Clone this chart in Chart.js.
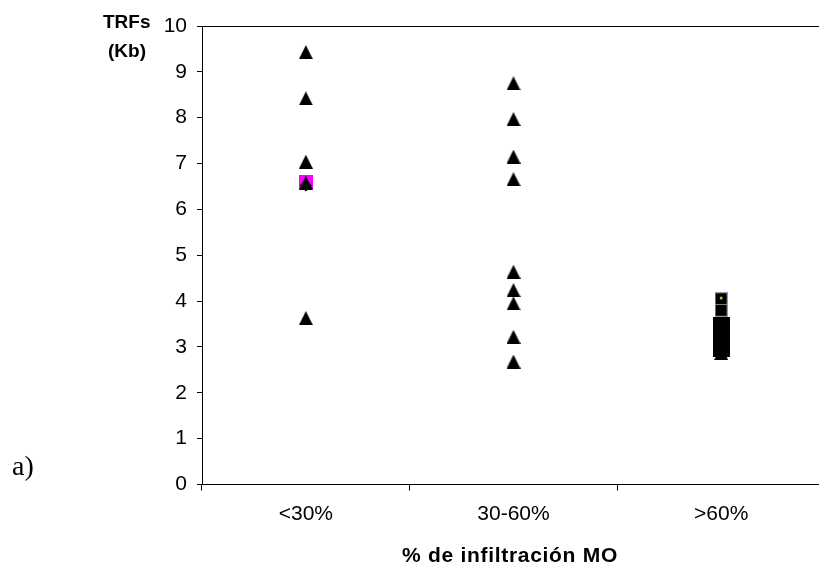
<!DOCTYPE html>
<html>
<head>
<meta charset="utf-8">
<script src="https://cdn.jsdelivr.net/npm/chart.js"></script>
<style>
html, body { margin: 0; padding: 0; background: #fff; overflow: hidden; }
#caja { position: relative; width: 819px; height: 569px; overflow: hidden; }
#grafica { position: absolute; left: 0; top: 0; }
.tit { position: absolute; font-family: 'Liberation Sans', Arial, sans-serif; font-weight: bold; font-size: 19px; color: #000; }
</style>
</head>
<body>
<div id="caja">
<canvas id="grafica" width="834" height="569"></canvas>
<div class="tit" style="left:103px; top:11px;">TRFs</div>
<div class="tit" style="left:108px; top:40px;">(Kb)</div>
<div class="tit" style="left:360px; width:300px; top:543px; text-align:center; font-size:21px; letter-spacing:0.7px;">% de infiltración MO</div>
<div style="position:absolute; left:12px; top:450px; font-family:'Liberation Serif','Times New Roman',serif; font-size:28px;">a)</div>
</div>
<script>
// DATOS

const categorias = ['<30%', '30-60%', '>60%'];
const marcasY = [0, 1, 2, 3, 4, 5, 6, 7, 8, 9, 10];

// un arreglo por categoría
const triangulos = [
  [9.43, 8.42, 7.04, 6.58, 3.63],
  [8.75, 7.97, 7.15, 6.66, 4.64, 4.24, 3.95, 3.22, 2.68],
  [2.87]
];
const rombos = [[6.52], [], []];
const cuadradosRosa = [[6.60], [], []];
const cuadradosChicos = [[], [], [4.05, 3.80]];
const cuadradosGrandes = [[], [], [3.47, 3.37, 3.27, 3.17, 3.07, 2.97]];
const puntoVerde = [[], [], [4.07]];


// convierte los arreglos por categoría en puntos {x, y}
function puntos(grupos){
  return grupos.flatMap((vals, i) => vals.map(v => ({ x: categorias[i], y: v })));
}

// marcadores dibujados en un canvas aparte
function marcador(forma, w, h, relleno, borde){
  const c = document.createElement('canvas');
  c.width = w;
  c.height = h;
  const g = c.getContext('2d');
  g.fillStyle = relleno;
  if (forma === 'tri') {
    g.beginPath();
    g.moveTo(w / 2, 0);
    g.lineTo(w, h);
    g.lineTo(0, h);
    g.closePath();
    g.fill();
  } else {
    g.fillRect(0, 0, w, h);
    if (borde) {
      g.strokeStyle = borde;
      g.strokeRect(0.5, 0.5, w - 1, h - 1);
    }
  }
  return c;
}

const fuente = "'Liberation Sans', Arial, sans-serif";

const ctx = document.getElementById('grafica');

new Chart(ctx, {
  type: 'scatter',
  data: {
    datasets: [
      { data: puntos(puntoVerde), pointStyle: 'circle', pointRadius: 1.5, backgroundColor: '#9acd32', borderWidth: 0 },
      { data: puntos(triangulos), pointStyle: marcador('tri', 14, 14, '#000'), pointRadius: 7 },
      { data: puntos(rombos), pointStyle: 'rectRot', pointRadius: 6, backgroundColor: '#000', borderWidth: 0 },
      { data: puntos(cuadradosChicos), pointStyle: marcador('sq', 13, 13, '#000', '#999'), pointRadius: 7 },
      { data: puntos(cuadradosGrandes), pointStyle: marcador('sq', 17, 17, '#000'), pointRadius: 8 },
      { data: puntos(cuadradosRosa), pointStyle: marcador('sq', 14, 14, '#ff00ff'), pointRadius: 7 }
    ]
  },
  options: {
    responsive: false,
    animation: false,
    layout: { padding: { top: 26, right: 2, left: 0, bottom: 0 } },
    plugins: { legend: { display: false }, tooltip: { enabled: false } },
    scales: {
      x: {
        type: 'category',
        labels: categorias,
        offset: true,
        grid: { offset: true, drawOnChartArea: false, tickLength: 6, tickColor: '#000' },
        border: { color: '#000', width: 1 },
        ticks: { color: '#000', font: { family: fuente, size: 21 }, padding: 11, maxRotation: 0 },
        afterFit: s => { s.height = 84.5; }
      },
      y: {
        min: marcasY[0],
        max: marcasY[marcasY.length - 1],
        ticks: { stepSize: 1, color: '#000', font: { family: fuente, size: 21 }, padding: 10 },
        grid: {
          tickLength: 5,
          tickColor: '#000',
          color: c => c.tick && c.tick.value === 10 ? '#000' : 'rgba(0,0,0,0)'
        },
        border: { color: '#000', width: 1 },
        afterFit: s => { s.width = 202; }
      }
    }
  }
});
</script>
</body>
</html>
